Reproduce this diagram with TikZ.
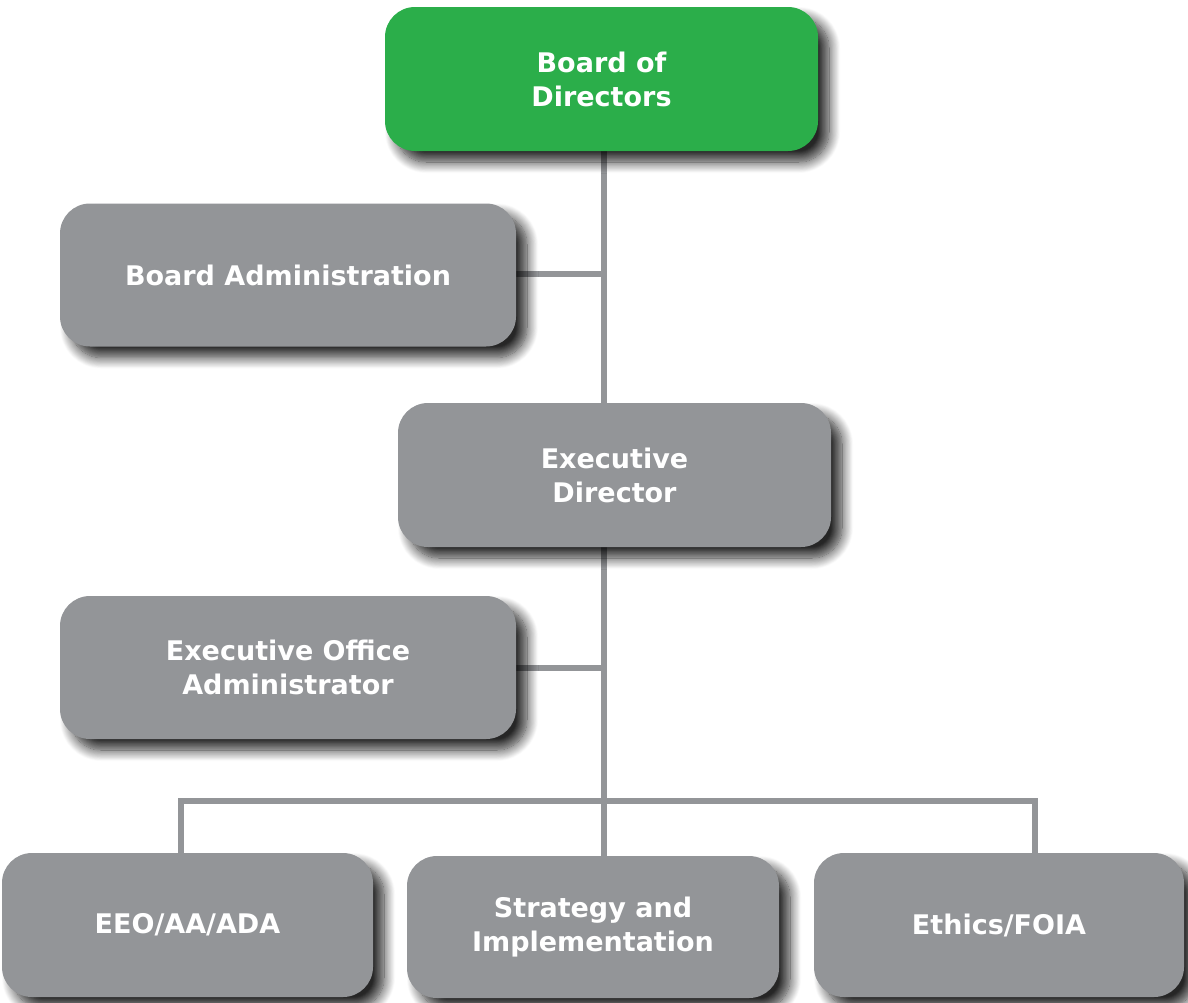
\documentclass[tikz,border=0pt]{standalone}
\usepackage{fontspec}
\setmainfont{DejaVu Sans}
\usetikzlibrary{shadows.blur,backgrounds}
\definecolor{boxgreen}{HTML}{2BAE4A}
\definecolor{boxgray}{HTML}{939598}
\definecolor{linegray}{HTML}{939598}
\tikzset{
  box/.style={rectangle, rounded corners=30pt, fill=boxgray, text=white,
    font=\fontsize{27}{34}\selectfont\bfseries, align=center, inner sep=0pt,
    blur shadow={shadow xshift=11pt, shadow yshift=-11pt, shadow blur radius=11pt, shadow blur steps=14, shadow opacity=85}},
  conn/.style={draw=linegray, line width=5.5pt}
}
\begin{document}
\begin{tikzpicture}[x=1pt,y=-1pt]
\useasboundingbox (0,0) rectangle (1188,1002);
\node[box, fill=boxgreen, minimum width=433pt, minimum height=144pt] (bod) at (601.5,79) {Board of\\Directors};
\node[box, minimum width=456pt, minimum height=143pt] (ba) at (288,275) {Board Administration};
\node[box, minimum width=433pt, minimum height=144pt] (ed) at (614.5,475) {Executive\\Director};
\node[box, minimum width=456pt, minimum height=143pt] (eoa) at (288,667.5) {Executive Office\\Administrator};
\node[box, minimum width=371pt, minimum height=144pt] (eeo) at (187.5,925) {EEO/AA/ADA};
\node[box, minimum width=372pt, minimum height=142pt] (si) at (593,927) {Strategy and\\Implementation};
\node[box, minimum width=370pt, minimum height=144pt] (eth) at (999,925) {Ethics/FOIA};
\coordinate (top) at (604,151);
\coordinate (j1) at (604,274);
\coordinate (j2) at (604,668);
\coordinate (busL) at (181,801);
\coordinate (busR) at (1035,801);
\begin{scope}[on background layer]
\draw[conn] (top) -- (top |- ed.north);
\draw[conn] (top |- ed.south) -- (top |- si.north);
\draw[conn] (ba.east |- j1) -- (j1);
\draw[conn] (eoa.east |- j2) -- (j2);
\draw[conn] (busL |- eeo.north) -- (busL) -- (busR) -- (busR |- eth.north);
\end{scope}
\end{tikzpicture}
\end{document}
